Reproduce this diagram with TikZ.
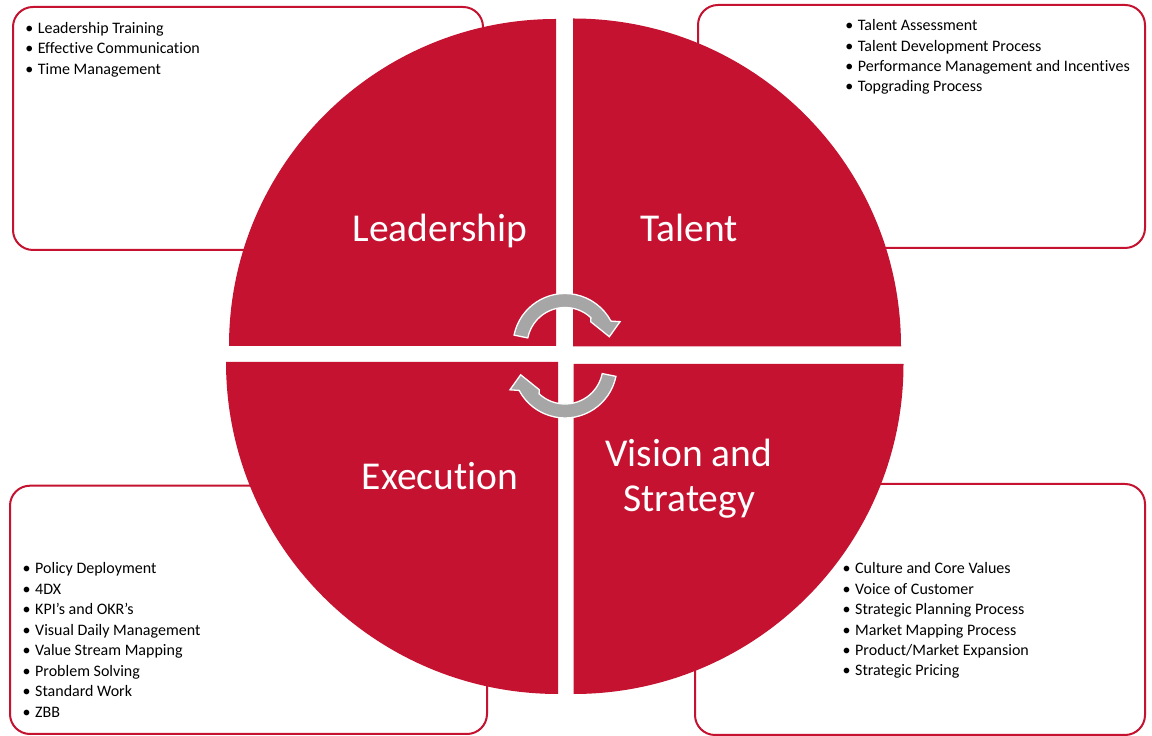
\documentclass[tikz,border=0pt]{standalone}
\usepackage{fontspec}
\setmainfont{Carlito}[Ligatures={NoCommon}]
\definecolor{brandred}{HTML}{C41230}
\definecolor{arrowgray}{HTML}{A6A6A6}
\begin{document}
\begin{tikzpicture}[x=1pt,y=1pt,
  listbox/.style={draw=brandred, line width=2pt, fill=white, rounded corners=20pt},
  quad/.style={fill=brandred},
  item/.style={anchor=base west, inner sep=0pt, font=\fontsize{16}{19}\selectfont},
  titletext/.style={text=white, inner sep=0pt, font=\fontsize{39.5}{45}\selectfont, anchor=base},
  cyc/.style={fill=arrowgray, draw=white, line width=1.3pt, line join=miter},
  cycarrow/.pic={
    \path[cyc] (168.5:52) arc[start angle=168.5, end angle=28, radius=52]
      -- (23.4:60) -- (11.2:45.2) -- (42.8:35) -- (47:38)
      arc[start angle=47, end angle=168.5, radius=38] -- cycle;
  }]
\fill[white] (0,0) rectangle (1152,736);
\useasboundingbox (0,0) rectangle (1152,736);

% corner boxes
\path[listbox] (13,486) rectangle (483,729);
\path[listbox] (698,488) rectangle (1145,731);
\path[listbox] (10,2) rectangle (487,250.3);
\path[listbox] (695,1) rectangle (1145,252);

% quadrants
\fill[quad] (556,390) -- ++(-327,0) arc[start angle=180, end angle=90, radius=327] -- cycle;
\fill[quad] (573,389.5) -- ++(0,328) arc[start angle=90, end angle=0, radius=328] -- cycle;
\fill[quad] (558,374) -- ++(-332,0) arc[start angle=180, end angle=270, radius=332] -- cycle;
\fill[quad] (573.5,372) -- ++(330,0) arc[start angle=0, end angle=-90, radius=330] -- cycle;

% titles
\node[titletext] (leadership) at (440,494.3) {Leadership};
\node[titletext] (talent) at (689.2,494.3) {Talent};
\node[titletext] (execution) at (440,246) {Execution};
\node[titletext] (vision) at (689,269.3) {Vision and};
\node[titletext] (strategy) at (689,224.3) {Strategy};

% cycle arrows
\pic (arrowtop) at (565,390.5) {cycarrow};
\pic[rotate=180] (arrowbottom) at (565,370) {cycarrow};

% lists
\newcommand{\bul}{\llap{•\hspace{4.5pt}}}
\foreach \t [count=\i] in {Leadership Training, Effective Communication, Time Management}
  \node[item] (tl\i) at (37.7,{736-33.3-20.4*(\i-1)}) {\bul\t};
\foreach \t [count=\i] in {Talent Assessment, Talent Development Process, Performance Management and Incentives, Topgrading Process}
  \node[item] (tr\i) at (857.7,{736-30.7-20.35*(\i-1)}) {\bul\t};
\foreach \t [count=\i] in {Policy Deployment, 4DX, KPI’s and OKR’s, Visual Daily Management, Value Stream Mapping, Problem Solving, Standard Work, ZBB}
  \node[item] (bl\i) at (35,{736-574-20.5*(\i-1)}) {\bul\t};
\foreach \t [count=\i] in {Culture and Core Values, Voice of Customer, Strategic Planning Process, Market Mapping Process, Product/Market Expansion, Strategic Pricing}
  \node[item] (br\i) at (855,{736-574-20.35*(\i-1)}) {\bul\t};
\end{tikzpicture}
\end{document}
